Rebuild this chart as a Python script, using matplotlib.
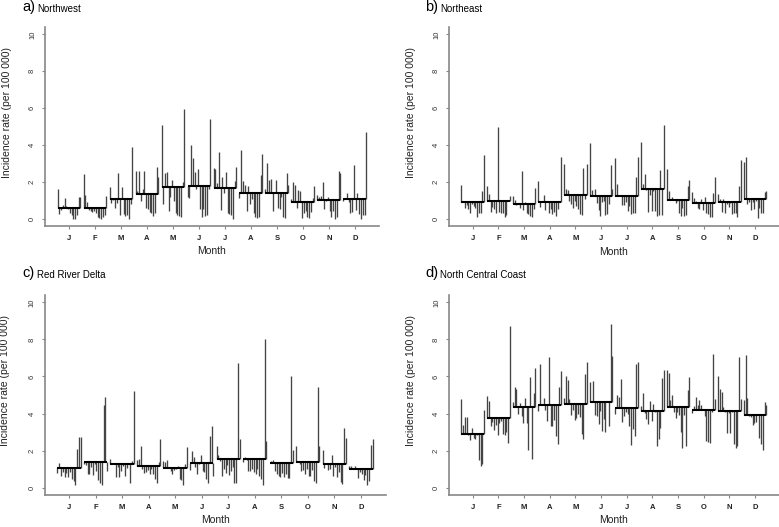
import numpy as np
import matplotlib.pyplot as plt

plt.rcParams['font.family'] = ['Liberation Sans', 'DejaVu Sans']

MONTHS = ['J', 'F', 'M', 'A', 'M', 'J', 'J', 'A', 'S', 'O', 'N', 'D']
Y_TICKS = [0, 2, 4, 6, 8, 10]

# one list per month, values in year order
northwest = [
    [1.6, 0.25, 0.45, 0.75, 1.1, 0.7, 0.5, 0.3, 0.2, 0.0, 0.0, 0.2, 1.2, 1.2],
    [2.4, 1.3, 0.9, 0.45, 0.4, 0.35, 0.4, 0.3, 0.1, 0.05, 0.0, 0.1, 0.2, 1.25],
    [1.7, 0.85, 1.0, 0.55, 0.85, 2.5, 0.2, 1.7, 0.25, 0.15, 0.2, 0.0, 0.8, 3.9],
    [2.6, 1.5, 2.6, 0.95, 1.6, 2.6, 0.55, 0.5, 0.35, 0.3, 0.15, 0.3, 2.8, 2.25],
    [5.1, 0.8, 2.5, 2.55, 0.4, 1.2, 2.1, 0.95, 0.3, 0.2, 0.15, 0.1, 2.0, 5.95],
    [1.2, 1.1, 4.0, 3.3, 2.55, 1.6, 2.7, 0.5, 0.1, 0.5, 0.15, 0.2, 1.6, 5.4],
    [2.75, 2.7, 1.95, 3.6, 0.45, 2.25, 1.4, 2.55, 0.3, 0.25, 0.2, 0.0, 2.05, 2.8],
    [1.1, 3.7, 2.05, 1.85, 0.4, 1.75, 0.8, 1.05, 0.3, 0.1, 0.05, 0.1, 2.35, 3.5],
    [1.6, 3.0, 2.1, 2.15, 0.4, 1.45, 2.1, 0.6, 0.5, 1.2, 0.1, 0.05, 2.45, 1.8],
    [1.05, 2.0, 1.8, 0.6, 1.55, 1.5, 0.05, 0.3, 0.4, 0.1, 0.05, 0.35, 1.1, 1.75],
    [1.3, 1.15, 1.25, 2.0, 0.5, 0.95, 1.15, 0.4, 0.1, 0.4, 0.0, 0.1, 2.6, 2.5],
    [0.95, 1.1, 1.4, 0.9, 0.3, 0.35, 2.9, 0.45, 1.4, 0.25, 0.0, 0.2, 0.2, 4.7],
]

northeast = [
    [1.85, 1.0, 0.6, 0.75, 0.55, 0.3, 0.8, 0.7, 0.6, 0.1, 0.3, 0.35, 1.5, 3.45],
    [1.8, 1.35, 0.4, 0.65, 0.55, 0.35, 5.0, 0.4, 0.35, 0.3, 0.1, 0.2, 0.95, 1.25],
    [1.25, 1.05, 0.75, 0.85, 0.6, 2.6, 0.5, 0.9, 0.3, 0.25, 0.15, 0.1, 0.55, 1.7],
    [2.05, 0.65, 0.9, 1.3, 0.5, 0.9, 0.3, 0.55, 0.25, 0.4, 0.15, 0.55, 0.9, 3.35],
    [3.0, 1.6, 1.55, 1.0, 0.8, 0.6, 0.95, 0.7, 0.55, 0.25, 0.2, 2.75, 1.1, 3.0],
    [4.1, 1.55, 1.3, 1.6, 0.85, 0.5, 0.15, 0.9, 1.0, 0.2, 0.25, 0.8, 2.9, 1.6],
    [3.3, 1.9, 1.3, 1.25, 0.75, 0.75, 0.9, 0.45, 0.7, 0.25, 0.3, 0.3, 2.3, 3.35],
    [4.15, 1.9, 2.45, 1.55, 0.4, 1.3, 0.45, 1.5, 0.45, 0.15, 0.2, 2.65, 0.2, 5.1],
    [2.7, 1.5, 1.05, 1.2, 1.1, 0.85, 0.95, 0.3, 0.15, 0.6, 0.15, 0.2, 1.8, 2.1],
    [1.45, 1.15, 1.0, 0.6, 0.55, 1.1, 0.5, 1.2, 0.3, 0.25, 0.1, 0.1, 1.4, 2.25],
    [1.35, 1.1, 0.4, 1.1, 0.35, 0.8, 0.65, 0.85, 0.25, 0.3, 0.35, 0.1, 1.8, 3.2],
    [3.1, 3.35, 0.8, 0.9, 0.5, 0.9, 0.55, 1.0, 0.05, 0.6, 0.35, 0.3, 1.45, 1.5],
]

red_river_delta = [
    [0.8, 1.35, 0.65, 0.85, 0.55, 0.8, 0.55, 0.85, 0.45, 0.35, 0.15, 2.1, 2.75, 2.75],
    [1.3, 1.2, 0.75, 0.75, 1.1, 0.7, 1.3, 0.9, 0.4, 0.25, 0.15, 4.45, 4.9, 0.9],
    [1.55, 1.25, 1.3, 0.55, 1.1, 0.55, 0.9, 1.15, 0.6, 1.05, 1.3, 0.25, 1.45, 5.2],
    [1.5, 1.55, 2.25, 1.0, 0.8, 0.85, 0.95, 0.75, 1.0, 0.75, 0.45, 0.25, 1.4, 2.6],
    [1.45, 1.4, 1.5, 1.1, 0.9, 0.75, 0.95, 1.0, 1.15, 0.45, 0.4, 0.15, 1.3, 2.2],
    [0.95, 2.0, 1.65, 1.1, 0.75, 1.25, 1.75, 0.9, 0.85, 0.45, 0.25, 2.8, 3.3, 0.6],
    [2.25, 1.75, 1.45, 0.65, 1.0, 0.8, 1.2, 0.7, 0.9, 1.1, 0.25, 0.25, 6.75, 2.6],
    [1.4, 1.65, 1.5, 0.9, 0.9, 1.0, 0.85, 0.75, 1.0, 0.65, 0.45, 0.15, 8.05, 2.5],
    [1.35, 1.45, 1.5, 0.9, 0.75, 0.6, 0.55, 0.8, 0.55, 0.75, 0.5, 0.5, 6.0, 2.05],
    [2.25, 1.4, 1.3, 0.9, 0.95, 0.75, 1.0, 0.65, 0.6, 0.95, 0.35, 0.25, 5.45, 2.25],
    [2.05, 1.05, 1.35, 0.95, 1.0, 1.75, 0.6, 1.1, 0.55, 0.85, 0.3, 0.2, 3.2, 2.7],
    [1.15, 1.15, 1.05, 1.15, 1.0, 0.5, 0.85, 0.75, 0.4, 0.7, 0.15, 0.35, 2.3, 2.65],
]

north_central_coast = [
    [4.8, 3.4, 3.8, 3.8, 2.85, 2.55, 3.2, 2.7, 2.6, 2.85, 1.5, 1.15, 1.25, 4.2],
    [4.95, 4.7, 3.3, 3.55, 3.1, 3.4, 2.85, 3.5, 3.6, 2.9, 2.85, 3.0, 2.4, 8.7],
    [4.6, 5.45, 5.3, 3.95, 4.55, 3.85, 3.5, 4.85, 3.5, 2.05, 5.95, 1.55, 5.1, 6.45],
    [4.15, 6.7, 4.45, 4.85, 4.2, 3.6, 7.05, 3.3, 3.3, 3.65, 2.8, 2.35, 5.45, 6.3],
    [4.85, 6.05, 5.8, 4.8, 3.9, 4.2, 3.65, 3.75, 4.0, 3.8, 2.9, 2.6, 6.15, 6.8],
    [5.7, 4.6, 5.75, 3.9, 3.85, 3.45, 4.15, 3.05, 3.7, 3.0, 4.6, 3.3, 8.85, 7.1],
    [4.0, 5.0, 4.9, 5.85, 3.55, 3.85, 4.1, 4.0, 3.3, 2.3, 3.15, 2.8, 6.7, 6.8],
    [4.4, 5.1, 4.05, 3.7, 3.45, 4.7, 3.6, 4.5, 4.1, 2.25, 2.6, 3.2, 5.9, 6.35],
    [6.35, 6.2, 4.75, 5.0, 4.1, 3.75, 4.1, 3.9, 3.0, 2.15, 3.9, 2.25, 5.25, 5.95],
    [4.05, 4.4, 4.9, 4.45, 4.75, 4.45, 4.2, 3.85, 2.5, 2.45, 2.4, 4.1, 7.2, 4.8],
    [6.05, 5.3, 5.15, 4.35, 4.1, 2.95, 4.05, 2.95, 4.1, 2.35, 2.15, 2.25, 7.05, 4.8],
    [4.75, 7.15, 4.85, 3.85, 3.8, 3.4, 3.5, 3.55, 3.95, 2.7, 2.35, 2.05, 4.6, 4.45],
]

W, H = 779, 527


def px_box(x0, y_top, x1, y_bot):
    return [x0 / W, 1 - y_bot / H, (x1 - x0) / W, (y_bot - y_top) / H]


def month_plot(ax, data):
    for m, vals in enumerate(data, start=1):
        vals = np.asarray(vals)
        xs = m + np.linspace(-0.44, 0.44, len(vals))
        base = vals.mean()
        ax.vlines(xs, base, vals, color='#444444', lw=0.95)
        ax.hlines(base, xs[0], xs[-1], color='black', lw=1.5)

    ax.set_xlim(0.074, 12.93)
    ax.set_ylim(-0.4, 10.4)
    ax.set_xticks(range(1, 13))
    ax.set_xticklabels(MONTHS, fontsize=5.5, fontweight='bold', color='#222222')
    ax.set_yticks(Y_TICKS)
    ax.set_yticklabels([str(t) for t in Y_TICKS], fontsize=5.5, rotation=90,
                       va='center', color='#333333')
    for side in ['top', 'right']:
        ax.spines[side].set_visible(False)
    for side in ['left', 'bottom']:
        ax.spines[side].set_color('#888888')
        ax.spines[side].set_linewidth(1.2)
    ax.tick_params(axis='both', length=2.5, width=0.8, color='#888888', pad=4)
    ax.set_xlabel('Month', fontsize=7.5, color='#222222', labelpad=3)
    ax.set_ylabel('Incidence rate (per 100 000)', fontsize=7.5, color='#222222', labelpad=8)
    ax.yaxis.set_label_coords(-0.1, 0.57)


fig = plt.figure(figsize=(W / 100, H / 100), dpi=100)

panels = [
    (northwest, px_box(45, 27, 379, 226), 'a)', 'Northwest', 22, 11.5),
    (northeast, px_box(449, 27, 779, 226.4), 'b)', 'Northeast', 425, 11.5),
    (red_river_delta, px_box(44.5, 295, 385.5, 495), 'c)', 'Red River Delta', 22, 277.5),
    (north_central_coast, px_box(449, 295, 779, 495), 'd)', 'North Central Coast', 425, 277.5),
]

for data, box, tag, name, tx, ty in panels:
    ax = fig.add_axes(box)
    month_plot(ax, data)
    fig.text(tx / W, 1 - ty / H, tag, fontsize=10.5, va='baseline', ha='left')
    fig.text((tx + 15) / W, 1 - ty / H, name, fontsize=7, va='baseline', ha='left')

fig.savefig('out.png', dpi=100)
